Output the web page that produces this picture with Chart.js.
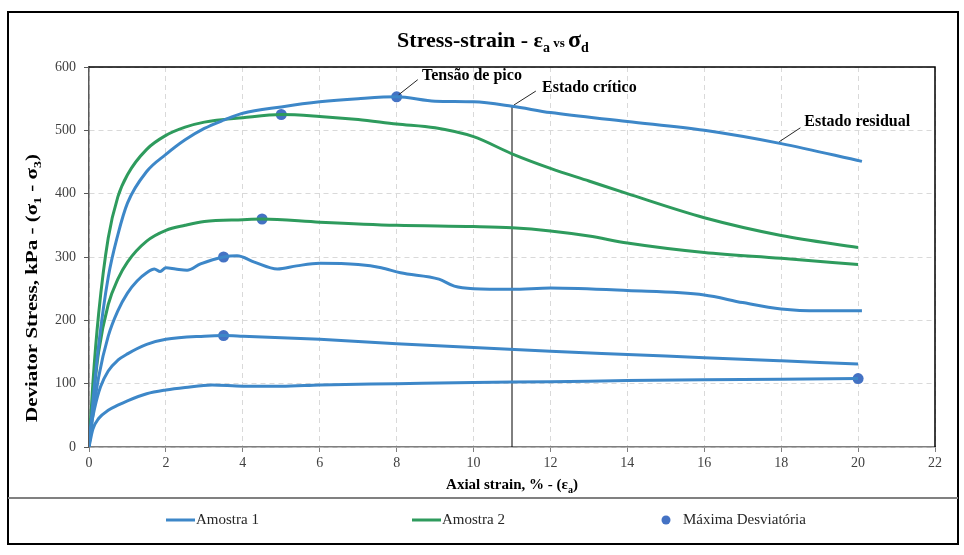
<!DOCTYPE html>
<html>
<head>
<meta charset="utf-8">
<script src="https://cdn.jsdelivr.net/npm/chart.js@4.4.0/dist/chart.umd.min.js"></script>
<style>
  html, body { margin: 0; padding: 0; background: #fff; }
  #wrap { width: 964px; height: 555px; position: relative; }
</style>
</head>
<body>
<div id="wrap"><canvas id="stressChart"></canvas></div>
<script>
// Axial strain (%) / deviator stress (kPa)
const blue1Strain = [0, 0.1, 0.25, 0.5, 0.75, 1, 1.5, 2, 2.5, 3, 3.5, 4, 5, 6, 7, 8, 9, 10, 11, 12, 14, 16, 18, 20.1];
const blue1Stress = [0, 70, 160, 268, 335, 385, 435, 462, 485, 503, 516, 527, 537, 545, 550, 553, 546, 545, 538, 528, 514, 500, 479, 451];

const blue2Strain = [0, 0.1, 0.25, 0.5, 0.75, 1, 1.25, 1.5, 1.7, 1.85, 2, 2.25, 2.55, 2.9, 3.5, 3.85, 4.3, 4.9, 5.4, 6, 7, 7.6, 8.1, 9.1, 9.5, 10, 11, 12, 14, 16, 17, 18, 19, 20.1];
const blue2Stress = [0, 50, 110, 175, 215, 243, 262, 275, 281, 277, 283, 281, 279, 289, 300, 302, 292, 281, 286, 290, 288, 283, 275, 265, 254, 250, 249, 251, 247, 240, 228, 218, 215, 215];

const blue3Strain = [0, 0.05, 0.15, 0.3, 0.5, 0.75, 1, 1.5, 2, 3, 3.5, 4, 6, 8, 10, 12, 14, 16, 18, 20];
const blue3Stress = [0, 30, 62, 95, 120, 137, 147, 162, 170, 175, 176, 175, 170, 163, 157, 151, 146, 141, 136, 131];

const blue4Strain = [0, 0.1, 0.25, 0.5, 0.75, 1, 1.5, 2, 2.5, 3.2, 4, 5, 6, 8, 10, 12, 14, 16, 18, 20];
const blue4Stress = [0, 28, 45, 58, 66, 73, 84, 90, 94, 98, 96, 96, 98, 100, 102, 103, 105, 106, 107, 108];

const green1Strain = [0, 0.1, 0.25, 0.5, 0.75, 1, 1.5, 2, 2.5, 3, 4, 5, 6, 7, 8, 9, 10, 11, 12, 13, 14, 16, 18, 20];
const green1Stress = [0, 100, 210, 330, 395, 430, 470, 492, 505, 513, 520, 525, 522, 517, 510, 504, 490, 463, 440, 420, 400, 362, 334, 315];

const green2Strain = [0, 0.1, 0.25, 0.5, 0.75, 1, 1.5, 2, 2.5, 3, 4, 4.5, 6, 8, 10, 11, 12, 13, 14, 16, 18, 20];
const green2Stress = [0, 70, 150, 225, 265, 292, 325, 342, 350, 356, 359, 360, 355, 350, 348, 346, 341, 333, 322, 307, 298, 288];

// peak deviator of each test
const peakStrain = [8, 5, 4.5, 3.5, 3.5, 20];
const peakStress = [553, 525, 360, 300, 176, 108];

// critical-state marker and leader lines of the notes
const critStrain = [11, 11];
const critStress = [0, 538];
const notes = ['Tensão de pico', 'Estado crítico', 'Estado residual'];
const noteStrain = [8.66, 11.78, 18.6];
const noteStress = [586, 567, 513];
const leaderStrain = [[8.05, 8.55], [11.05, 11.62], [17.95, 18.5]];
const leaderStress = [[556, 580], [540, 562], [482, 504]];

const legendLabels = ['Amostra 1', 'Amostra 2', 'Máxima Desviatória'];
const xTicks = [0, 2, 4, 6, 8, 10, 12, 14, 16, 18, 20, 22];

const BLUE = '#3d87c8';
const GREEN = '#2e9b5d';
const DOT = '#4472c4';
const SERIF = '"Liberation Serif", "Times New Roman", serif';

function pts(xs, ys) {
    return xs.map((x, i) => ({ x: x, y: ys[i] }));
}

function curve(xs, ys, color) {
    return {
        data: pts(xs, ys),
        showLine: true,
        borderColor: color,
        backgroundColor: color,
        borderWidth: 3,
        pointRadius: 0,
        cubicInterpolationMode: 'monotone',
        fill: false
    };
}

function thin(xs, ys, color) {
    return {
        data: pts(xs, ys),
        showLine: true,
        borderColor: color,
        borderWidth: 1,
        pointRadius: 0,
        fill: false
    };
}

// draws text with sub/small parts: parts = [text, size, dy]
function drawRich(ctx, parts, x, y, align) {
    let total = 0;
    parts.forEach(p => {
        ctx.font = `bold ${p[1]}px ${SERIF}`;
        total += ctx.measureText(p[0]).width;
    });
    let cx = align === 'center' ? x - total / 2 : x;
    parts.forEach(p => {
        ctx.font = `bold ${p[1]}px ${SERIF}`;
        ctx.fillText(p[0], cx, y + p[2]);
        cx += ctx.measureText(p[0]).width;
    });
}

const decorPlugin = {
    id: 'decor',
    afterDraw(chart) {
        const ctx = chart.ctx;
        const area = chart.chartArea;
        const xs = chart.scales.x;
        const ys = chart.scales.y;
        ctx.save();

        // plot frame top/right
        ctx.strokeStyle = '#000';
        ctx.lineWidth = 1.5;
        ctx.beginPath();
        ctx.moveTo(area.left, area.top);
        ctx.lineTo(area.right, area.top);
        ctx.lineTo(area.right, area.bottom);
        ctx.stroke();

        // outer frame and legend box
        ctx.lineWidth = 2;
        ctx.strokeRect(8, 12, 950, 532);
        ctx.strokeStyle = '#808080';
        ctx.beginPath();
        ctx.moveTo(8, 498);
        ctx.lineTo(958, 498);
        ctx.stroke();

        ctx.fillStyle = '#000';
        ctx.textBaseline = 'alphabetic';
        // title
        drawRich(ctx, [['Stress-strain - ε', 22, 0], ['a', 14, 5], [' vs ', 13, 0], ['σ', 24, 0], ['d', 14, 5]], 493, 47, 'center');

        // axis titles
        drawRich(ctx, [['Axial strain, % - (ε', 15, 0], ['a', 10, 4], [')', 15, 0]], (area.left + area.right) / 2, 489, 'center');
        ctx.save();
        ctx.translate(37, 288);
        ctx.rotate(-Math.PI / 2);
        ctx.scale(1, 0.78);
        drawRich(ctx, [['Deviator Stress, kPa - (σ', 21, 0], ['1', 14, 5], [' - σ', 21, 0], ['3', 14, 5], [')', 21, 0]], 0, 0, 'center');
        ctx.restore();

        // notes
        ctx.textBaseline = 'middle';
        ctx.font = `bold 16px ${SERIF}`;
        notes.forEach((t, i) => {
            ctx.fillText(t, xs.getPixelForValue(noteStrain[i]), ys.getPixelForValue(noteStress[i]));
        });

        // legend
        const ly = 520;
        ctx.font = `15px ${SERIF}`;
        ctx.fillStyle = '#262626';
        ctx.lineWidth = 3;
        ctx.strokeStyle = BLUE;
        ctx.beginPath(); ctx.moveTo(166, ly); ctx.lineTo(195, ly); ctx.stroke();
        ctx.fillText(legendLabels[0], 196, ly);
        ctx.strokeStyle = GREEN;
        ctx.beginPath(); ctx.moveTo(412, ly); ctx.lineTo(441, ly); ctx.stroke();
        ctx.fillText(legendLabels[1], 442, ly);
        ctx.fillStyle = DOT;
        ctx.beginPath(); ctx.arc(666, ly, 4.5, 0, Math.PI * 2); ctx.fill();
        ctx.fillStyle = '#262626';
        ctx.fillText(legendLabels[2], 683, ly);

        ctx.restore();
    }
};

const datasets = [
    curve(blue1Strain, blue1Stress, BLUE),
    curve(blue2Strain, blue2Stress, BLUE),
    curve(blue3Strain, blue3Stress, BLUE),
    curve(blue4Strain, blue4Stress, BLUE),
    curve(green1Strain, green1Stress, GREEN),
    curve(green2Strain, green2Stress, GREEN),
    thin(critStrain, critStress, '#000')
];
leaderStrain.forEach((lx, i) => datasets.push(thin(lx, leaderStress[i], '#262626')));
datasets.push({
    data: pts(peakStrain, peakStress),
    showLine: false,
    pointRadius: 5.5,
    pointHoverRadius: 5.5,
    pointBackgroundColor: DOT,
    pointBorderWidth: 0
});

new Chart(document.getElementById('stressChart'), {
    type: 'scatter',
    data: { datasets: datasets },
    plugins: [decorPlugin],
    options: {
        responsive: true,
        maintainAspectRatio: false,
        animation: false,
        layout: { padding: { left: 8, right: 29, top: 67, bottom: 68 } },
        plugins: {
            legend: { display: false },
            tooltip: { enabled: false }
        },
        scales: {
            x: {
                type: 'linear',
                min: 0,
                max: 22,
                afterBuildTicks: axis => { axis.ticks = xTicks.map(v => ({ value: v })); },
                afterFit: axis => { axis.height = 40; },
                ticks: { font: { family: SERIF, size: 14 }, color: '#404040', padding: 3, maxRotation: 0 },
                grid: { color: '#d9d9d9', tickColor: '#7f7f7f', tickLength: 5 },
                border: { color: '#7f7f7f', width: 1.5, dash: [5, 4] }
            },
            y: {
                min: 0,
                max: 600,
                ticks: { stepSize: 100, font: { family: SERIF, size: 14 }, color: '#404040', padding: 8 },
                afterFit: axis => { axis.width = 81; },
                grid: { color: '#d9d9d9', tickColor: '#595959', tickLength: 5 },
                border: { color: '#595959', width: 1.5, dash: [5, 4] }
            }
        }
    }
});
</script>
</body>
</html>
